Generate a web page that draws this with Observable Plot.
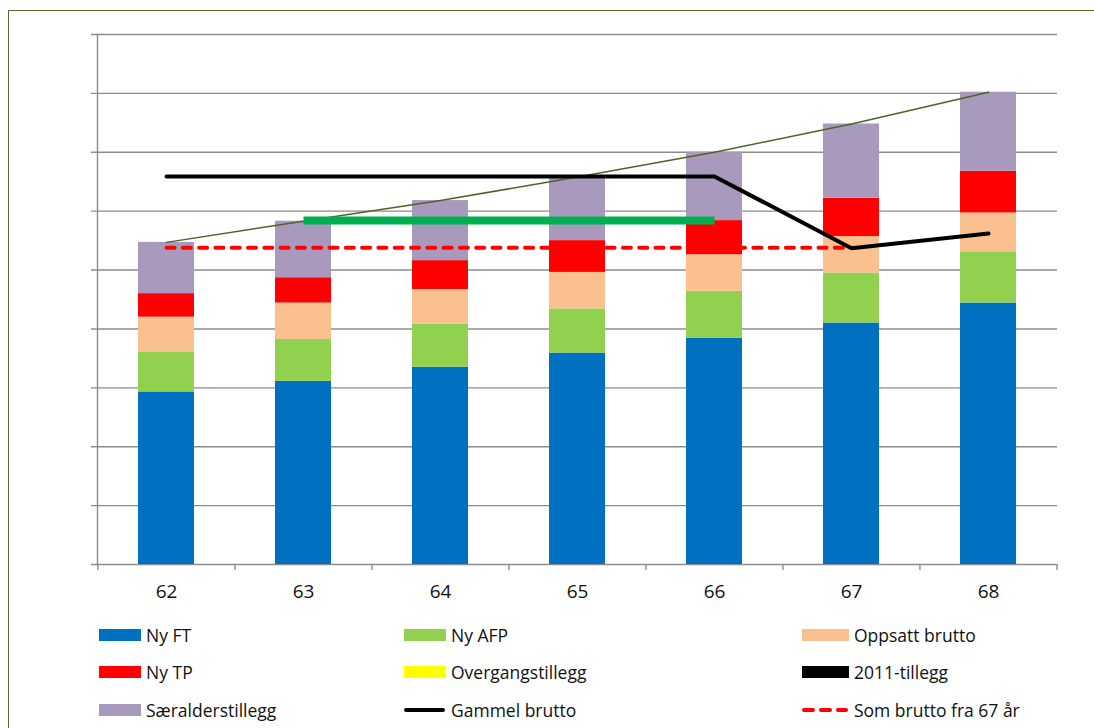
<!DOCTYPE html>
<html><head><meta charset="utf-8">
<script src="https://cdn.jsdelivr.net/npm/d3@7"></script>
<script src="https://cdn.jsdelivr.net/npm/@observablehq/plot@0.6"></script>
<style>
body{margin:0;background:#fff;font-family:"Open Sans",Lato,sans-serif;}
#wrap{position:relative;width:1094px;height:728px;overflow:hidden;background:#fff;}
#frame{position:absolute;left:8px;top:10px;width:1200px;height:800px;border-left:1.5px solid #5a6b32;border-top:1.5px solid #5a6b32;}
#chart{position:absolute;left:0;top:0;}
.leg{position:absolute;display:flex;align-items:center;font-size:17.5px;color:#111;white-space:nowrap;}
.sw{width:42px;height:12px;margin-right:5px;}
</style></head><body>
<div id="wrap"><div id="frame"></div><div id="chart"></div></div>
<script>
// ---- data (grid units, 0..9) ----
const ages = ["62","63","64","65","66","67","68"];
const seriesNames = ["Ny FT","Ny AFP","Oppsatt brutto","Ny TP","Overgangstillegg","2011-tillegg","Særalderstillegg"];
const seriesColors = ["#0070C0","#92D050","#FAC090","#FF0000","#FFFF00","#000000","#A99ABD"];
const nyFT       = [2.93,3.11,3.35,3.59,3.84,4.10,4.44];
const nyAFP      = [0.68,0.71,0.73,0.75,0.80,0.85,0.87];
const oppsatt    = [0.59,0.62,0.59,0.62,0.62,0.62,0.66];
const nyTP       = [0.40,0.43,0.49,0.54,0.58,0.65,0.71];
const overgang   = [0,0,0,0,0,0,0];
const tillegg2011= [0,0,0,0,0,0,0];
const saeralder  = [0.87,0.96,1.02,1.08,1.16,1.26,1.34];
const gammelBrutto = [6.59,6.59,6.59,6.59,6.59,5.37,5.62];
const somBrutto67  = [5.38,5.38,5.38,5.38,5.38,5.38,null];
const greenLevel   = [null,5.84,5.84,5.84,5.84,null,null];
const yTicks = [0,1,2,3,4,5,6,7,8,9];

const seriesValues = [nyFT,nyAFP,oppsatt,nyTP,overgang,tillegg2011,saeralder];
const stacked = [];
ages.forEach((a,i)=>seriesNames.forEach((s,k)=>stacked.push({age:a,series:s,value:seriesValues[k][i]})));
const totals = ages.map((a,i)=>({age:a,value:d3.sum(seriesValues,v=>v[i])}));
const asRows = arr => ages.map((a,i)=>({age:a,value:arr[i]}));

const step = 960/7;
const plot = Plot.plot({
  width:1094, height:614,
  marginLeft:97, marginRight:37, marginTop:34, marginBottom:50,
  x:{domain:ages, paddingInner:0.59, paddingOuter:0.295, axis:null, label:null},
  y:{domain:[0,9], axis:null},
  color:{domain:seriesNames, range:seriesColors},
  style:{fontFamily:"'Open Sans', Lato, sans-serif", fontSize:"19px", background:"transparent", overflow:"visible"},
  marks:[
    Plot.ruleY(yTicks,{stroke:"#8c8c8c",strokeWidth:1.4,insetLeft:-6}),
    Plot.ruleX(ages,{x:d=>d,y1:0,y2:-0.1,dx:-step/2,stroke:"#8c8c8c",strokeWidth:1.4}),
    Plot.ruleX([ages[ages.length-1]],{x:d=>d,y1:0,y2:-0.1,dx:step/2,stroke:"#8c8c8c",strokeWidth:1.4}),
    Plot.frame({anchor:"left",stroke:"#8c8c8c",strokeWidth:1.4}),
    Plot.barY(stacked,{x:"age",y:"value",fill:"series"}),
    Plot.lineY(totals,{x:"age",y:"value",stroke:"#4F6228",strokeWidth:1.5}),
    Plot.lineY(asRows(greenLevel),{x:"age",y:"value",stroke:"#00B050",strokeWidth:8,strokeLinecap:"butt"}),
    Plot.lineY(asRows(somBrutto67),{x:"age",y:"value",stroke:"#FF0000",strokeWidth:4,strokeDasharray:"8 8.3",strokeLinecap:"round"}),
    Plot.lineY(asRows(gammelBrutto),{x:"age",y:"value",stroke:"#000",strokeWidth:4,strokeLinecap:"round",strokeLinejoin:"miter"}),
    Plot.axisX({tickSize:0,tickPadding:20,fontSize:19,fill:"#111",label:null})
  ]
});
document.getElementById("chart").appendChild(plot);

// ---- legend ----
const legendTypes = ["bar","bar","bar","bar","bar","bar","bar","line","dash"];
const legendNames = [...seriesNames,"Gammel brutto","Som brutto fra 67 år"];
const legendColors = [...seriesColors,"#000000","#FF0000"];
const colX=[99,404,802], rowY=[635,672,710], swW=[42,42,47];
const wrap=document.getElementById("wrap");
legendNames.forEach((n,i)=>{
  const c=i%3;
  const el=document.createElement("div");
  el.className="leg";
  el.style.left=colX[c]+"px";
  el.style.top=(rowY[Math.floor(i/3)]-13)+"px";
  el.style.height="26px";
  let sw;
  if(legendTypes[i]==="bar"){
    sw=`<div class="sw" style="width:${swW[c]}px;background:${legendColors[i]}"></div>`;
  } else {
    const dash = legendTypes[i]==="dash" ? 'stroke-dasharray="9 8"' : '';
    sw=`<svg width="${swW[c]}" height="12" style="margin-right:5px"><line x1="2" x2="${swW[c]-3}" y1="6" y2="6" stroke="${legendColors[i]}" stroke-width="4" stroke-linecap="round" ${dash}/></svg>`;
  }
  el.innerHTML=sw+`<span>${n}</span>`;
  wrap.appendChild(el);
});
</script>
</body></html>
